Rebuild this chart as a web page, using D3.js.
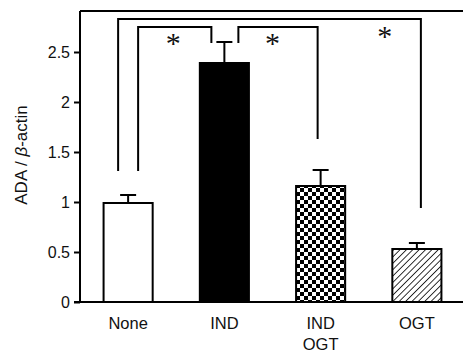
<!DOCTYPE html>
<html>
<head>
<meta charset="utf-8">
<script src="https://cdn.jsdelivr.net/npm/d3@7"></script>
<style>
  body { margin: 0; background: #fff; }
  text { font-family: "Liberation Sans", Arial, sans-serif; fill: #111; }
</style>
</head>
<body>
<div id="canvas"></div>
<script>
(function(){

    // chart values
    var groups = ["None", "IND", "IND\nOGT", "OGT"];
    var means  = [0.99, 2.39, 1.16, 0.53];
    var errs   = [0.08, 0.21, 0.16, 0.06];
    var yTicks = [0, 0.5, 1, 1.5, 2, 2.5];

    // significance brackets: from group, to group, left end, top, right end (in y units)
    var brackets = [
        {a:0, b:1, y1:1.31, top:2.75, y2:2.59, dx1:10,  dx2:-13},
        {a:1, b:2, y1:2.59, top:2.75, y2:1.63, dx1:14,  dx2:-3},
        {a:0, b:3, y1:1.31, top:2.83, y2:0.94, dx1:-10, dx2:4}
    ];
    var stars = [
        {a:0, b:1, y:2.64, dx:-3},
        {a:1, b:2, y:2.64, dx:0},
        {a:2, b:3, y:2.71, dx:16}
    ];

    var W = 463, H = 356;
    var canvas = d3.select("#canvas")
                .append("svg")
                .attr("width", W)
                .attr("height", H);

    var x = d3.scaleBand()
              .domain(d3.range(groups.length))
              .range([80, 465])
              .paddingInner(0.49)
              .paddingOuter(0.245);

    var y = d3.scaleLinear()
              .domain([0, 2.91])
              .range([302, 11]);

    var cx = function(i){ return x(i) + x.bandwidth() / 2; };

    // patterns
    var defs = canvas.append("defs");
    var chk = defs.append("pattern")
                  .attr("id", "checker")
                  .attr("patternUnits", "userSpaceOnUse")
                  .attr("width", 8).attr("height", 8);
    chk.append("rect").attr("width", 8).attr("height", 8).attr("fill", "#fff");
    chk.append("rect").attr("width", 4).attr("height", 4).attr("fill", "#000");
    chk.append("rect").attr("x", 4).attr("y", 4).attr("width", 4).attr("height", 4).attr("fill", "#000");

    var hatch = defs.append("pattern")
                  .attr("id", "hatch")
                  .attr("patternUnits", "userSpaceOnUse")
                  .attr("width", 4.5).attr("height", 4.5)
                  .attr("patternTransform", "rotate(45)");
    hatch.append("rect").attr("width", 4.5).attr("height", 4.5).attr("fill", "#fff");
    hatch.append("line")
         .attr("x1", 0).attr("y1", 0).attr("x2", 0).attr("y2", 4.5)
         .attr("stroke", "#000").attr("stroke-width", 1.6);

    var fills = ["#fff", "#000", "url(#checker)", "url(#hatch)"];

    // frame top line and x baseline
    canvas.append("line")
          .attr("x1", 80).attr("x2", W)
          .attr("y1", y(2.91)).attr("y2", y(2.91))
          .attr("stroke", "#000").attr("stroke-width", 2);
    canvas.append("line")
          .attr("x1", 74).attr("x2", W)
          .attr("y1", y(0)).attr("y2", y(0))
          .attr("stroke", "#000").attr("stroke-width", 2);

    // y axis
    var yAxis = canvas.append("g")
          .attr("transform", "translate(80,0)")
          .call(d3.axisLeft(y).tickValues(yTicks).tickSize(6).tickPadding(4)
                 .tickFormat(function(d){ return d; }));
    yAxis.select(".domain").attr("d", "M0," + y(2.91) + "V" + y(0)).attr("stroke-width", 2);
    yAxis.selectAll(".tick line").attr("stroke-width", 2);
    yAxis.selectAll("text").style("font-size", "16px").style("fill", "#111");

    canvas.append("text")
          .attr("transform", "translate(27,155) rotate(-90)")
          .attr("text-anchor", "middle")
          .style("font-size", "17px")
          .html('ADA / <tspan font-style="italic">β</tspan>-actin');

    // error bars
    groups.forEach(function(g, i){
        canvas.append("line")
              .attr("x1", cx(i)).attr("x2", cx(i))
              .attr("y1", y(means[i])).attr("y2", y(means[i] + errs[i]))
              .attr("stroke", "#000").attr("stroke-width", 2);
        canvas.append("line")
              .attr("x1", cx(i) - 8).attr("x2", cx(i) + 8)
              .attr("y1", y(means[i] + errs[i])).attr("y2", y(means[i] + errs[i]))
              .attr("stroke", "#000").attr("stroke-width", 2);
    });

    // bars
    groups.forEach(function(g, i){
        canvas.append("rect")
              .attr("x", x(i))
              .attr("y", y(means[i]))
              .attr("width", x.bandwidth())
              .attr("height", y(0) - y(means[i]))
              .attr("fill", fills[i])
              .attr("stroke", "#000")
              .attr("stroke-width", 2);
    });

    // x labels
    groups.forEach(function(g, i){
        var t = canvas.append("text")
              .attr("x", cx(i))
              .attr("y", 329)
              .attr("text-anchor", "middle")
              .style("font-size", "16.5px");
        g.split("\n").forEach(function(s, k){
            t.append("tspan").attr("x", cx(i)).attr("dy", k ? 21 : 0).text(s);
        });
    });

    // brackets
    for (var b of brackets) {
        var xa = cx(b.a) + b.dx1, xb = cx(b.b) + b.dx2;
        canvas.append("path")
              .attr("d", "M" + xa + "," + y(b.y1) + "V" + y(b.top) + "H" + xb + "V" + y(b.y2))
              .attr("fill", "none")
              .attr("stroke", "#000")
              .attr("stroke-width", 2);
    }

    for (var s of stars) {
        canvas.append("text")
              .attr("x", (cx(s.a) + cx(s.b)) / 2 + s.dx)
              .attr("y", y(s.y) + 15)
              .attr("text-anchor", "middle")
              .style("font-family", "'Liberation Serif', serif")
              .style("font-size", "30px")
              .text("*");
    }

})();
</script>
</body>
</html>
